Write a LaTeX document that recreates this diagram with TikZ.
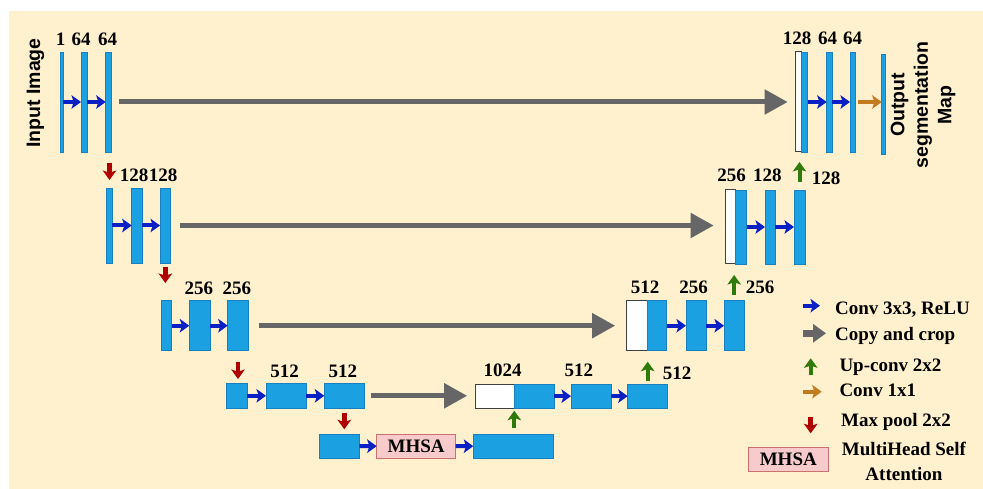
\documentclass[tikz,border=0pt]{standalone}
\usepackage{fontspec}
\setmainfont{Liberation Serif}
\newfontfamily\captionsans{Liberation Sans}
\usetikzlibrary{arrows.meta}

\definecolor{cream}{HTML}{FFF1CE}
\definecolor{barblue}{HTML}{1BA1E2}
\definecolor{baredge}{HTML}{1A7FBF}
\definecolor{convblue}{HTML}{0A1FC4}
\definecolor{copygray}{HTML}{666666}
\definecolor{poolred}{HTML}{B00000}
\definecolor{upgreen}{HTML}{2E7A0A}
\definecolor{onebyone}{HTML}{C47A1E}
\definecolor{attnfill}{HTML}{F7CBCB}
\definecolor{attnedge}{HTML}{CC7070}

\tikzset{
  fmap/.style={draw=baredge, fill=barblue, line width=0.7pt, inner sep=0pt, outer sep=0pt},
  cropped/.style={draw=black!75, fill=white, line width=1pt, inner sep=0pt, outer sep=0pt},
  attn/.style={draw=attnedge, fill=attnfill, line width=1pt, inner sep=0pt, outer sep=0pt,
    font=\bfseries\fontsize{19}{21}\selectfont},
  num/.style={font=\bfseries\fontsize{19}{21}\selectfont, inner sep=0pt, anchor=base},
  legtext/.style={font=\bfseries\fontsize{19}{25}\selectfont, inner sep=0pt},
  sidetitle/.style={font=\captionsans\bfseries\fontsize{19.5}{23.5}\selectfont, rotate=90,
    align=center, inner sep=0pt},
  smallhead/.style={-{Stealth[length=9.5pt,width=13.5pt,inset=2.2pt]}},
  convarrow/.style={convblue, line width=4pt, smallhead},
  copyarrow/.style={copygray, line width=5pt, -{Triangle[length=23pt,width=24pt]}},
  legcopy/.style={copygray, line width=7pt, -{Triangle[length=13pt,width=18pt]}},
  uparrow/.style={upgreen, line width=4pt, smallhead},
  poolarrow/.style={poolred, line width=4.5pt, smallhead},
  onearrow/.style={onebyone, line width=4pt, smallhead},
}

% feature-map block given by its corners: name, x1, y1, x2, y2
\newcommand\fmbox[6][fmap]{%
  \node[#1, minimum width={#5-#3}, minimum height={#6-#4}] (#2)
    at ({(#3+#5)/2},{(#4+#6)/2}) {};}

\begin{document}
\begin{tikzpicture}[x=1pt, y=-1pt]
\useasboundingbox (0,0) rectangle (983,489);
\fill[cream] (9,11) rectangle (983,489);

% ---- level 1 ----
\fmbox{a1}{60}{52}{63}{152}
\fmbox{a2}{81}{52}{87}{152}
\fmbox{a3}{105.7}{52}{111}{152}
\node[num] (la1) at (60.5,45.5) {1};
\node[num] (la2) at (81,45.5) {64};
\node[num] (la3) at (107.5,45.5) {64};
\node[sidetitle] (inimg) at (35.5,93) {Input Image};

\fmbox[cropped]{w1}{795.7}{52}{801}{152}
\fmbox{r1}{801}{52}{807.7}{152}
\fmbox{r2}{826.7}{52}{832.3}{152}
\fmbox{r3}{850}{52}{855.7}{152}
\fmbox{r4}{881.7}{54}{885}{154}
\node[num] (lr1) at (797,45) {128};
\node[num] (lr2) at (827.5,45) {64};
\node[num] (lr3) at (852.5,45) {64};
\node[sidetitle] (outmap) at (923,105) {Output\\segmentation\\Map};

\draw[convarrow] (a1) -- (a2);
\draw[convarrow] (a2) -- (a3);
\draw[copyarrow, shorten <=8pt, shorten >=8pt] (a3) -- (a3 -| w1.west);
\draw[convarrow] (r1) -- (r2);
\draw[convarrow] (r2) -- (r3);
\draw[onearrow, shorten <=2pt] (r3) -- (r3 -| r4.west);

% ---- level 2 ----
\fmbox{b1}{106.7}{188}{112.3}{263}
\fmbox{b2}{131.7}{188}{142.3}{263}
\fmbox{b3}{160}{188}{170.7}{263}
\node[num] (lb2) at (134,181.7) {128};
\node[num] (lb3) at (163,181.7) {128};

\fmbox[cropped]{w2}{725.7}{190}{735.7}{264}
\fmbox{s1}{735.7}{190}{746.7}{264}
\fmbox{s2}{765}{190}{775}{264}
\fmbox{s3}{794}{190}{805}{264}
\node[num] (ls1) at (731.7,181.7) {256};
\node[num] (ls2) at (767.3,181.7) {128};
\node[num] (ls3) at (826,185) {128};

\draw[convarrow] (b1) -- (b2);
\draw[convarrow] (b2) -- (b3);
\draw[copyarrow, shorten <=9pt, shorten >=12pt] (b3) -- (b3 -| w2.west);
\draw[convarrow] (s1) -- (s2);
\draw[convarrow] (s2) -- (s3);

% ---- level 3 ----
\fmbox{c1}{161}{300.7}{171.7}{350.7}
\fmbox{c2}{189.3}{300.7}{210}{350.7}
\fmbox{c3}{227.7}{300.7}{248.3}{350.7}
\node[num] (lc2) at (198.8,294.3) {256};
\node[num] (lc3) at (236.8,294.3) {256};

\fmbox[cropped]{w3}{626.7}{300.7}{647.3}{350.7}
\fmbox{t1}{647.3}{300.7}{666.7}{350.7}
\fmbox{t2}{686}{300.7}{706}{350.7}
\fmbox{t3}{724}{300.7}{744.3}{350.7}
\node[num] (lt1) at (645,294) {512};
\node[num] (lt2) at (693.5,294) {256};
\node[num] (lt3) at (760,294) {256};

\draw[convarrow] (c1) -- (c2);
\draw[convarrow] (c2) -- (c3);
\draw[copyarrow, shorten <=11pt, shorten >=11.5pt] (c3) -- (c3 -| w3.west);
\draw[convarrow] (t1) -- (t2);
\draw[convarrow] (t2) -- (t3);

% ---- level 4 ----
\fmbox{d1}{226.7}{383.3}{247.3}{408.3}
\fmbox{d2}{266}{383.3}{306}{408.3}
\fmbox{d3}{324.3}{383.3}{364.3}{408.3}
\node[num] (ld2) at (284.5,377.3) {512};
\node[num] (ld3) at (342.8,377.3) {512};

\fmbox[cropped]{w4}{475.7}{384}{514.3}{408.3}
\fmbox{v1}{514.3}{384}{554.3}{408.3}
\fmbox{v2}{571}{384}{611}{408.3}
\fmbox{v3}{627.7}{384}{667.7}{408.3}
\node[num] (lv1) at (502.5,376.7) {1024};
\node[num] (lv2) at (578.8,376.7) {512};
\node[num] (lv3) at (677,379.3) {512};

\draw[convarrow] (d1) -- (d2);
\draw[convarrow] (d2) -- (d3);
\draw[copyarrow, shorten <=6.5pt, shorten >=8.5pt] (d3) -- (d3 -| w4.west);
\draw[convarrow] (v1) -- (v2);
\draw[convarrow] (v2) -- (v3);

% ---- bottleneck ----
\fmbox{e1}{319}{434}{359.3}{458.3}
\node[attn, minimum width=79pt, minimum height=24.3pt] (mhsa) at (416.2,446.2) {MHSA};
\fmbox{e2}{473.3}{434}{553.3}{458.3}
\draw[convarrow] (e1) -- (mhsa);
\draw[convarrow] (mhsa) -- (e2);

% ---- max pooling (down) ----
\draw[poolarrow, shorten <=11pt, shorten >=8pt] (b1.north |- a3.south) -- (b1.north);
\draw[poolarrow, shorten <=3.7pt, shorten >=17.7pt] (b3.south) -- (b3.south |- c1.north);
\draw[poolarrow, shorten <=11pt, shorten >=4.3pt] (c3.south) -- (c3.south |- d1.north);
\draw[poolarrow, shorten <=4.4pt, shorten >=4.7pt] (d3.south) -- (d3.south |- e1.north);

% ---- up-convolution (up) ----
\draw[uparrow, shorten <=5.7pt, shorten >=2.4pt] (e2.north -| w4.east) -- (w4.south east);
\draw[uparrow, shorten <=3.3pt, shorten >=11pt] (v3.north) -- (v3.north |- w3.south);
\draw[uparrow, shorten <=5.7pt, shorten >=11pt] (t3.north) -- (t3.north |- w2.south);
\draw[uparrow, shorten <=8pt, shorten >=10pt] (s3.north) -- (s3.north |- w1.south);

% ---- legend ----
\coordinate (k1a) at (802.7,305.7); \coordinate (k1b) at (820,305.7);
\coordinate (k2a) at (803,333.3);   \coordinate (k2b) at (826,333.3);
\coordinate (k3a) at (810.7,375);   \coordinate (k3b) at (810.7,358.3);
\coordinate (k4a) at (803.3,391.7); \coordinate (k4b) at (821.7,391.7);
\coordinate (k5a) at (810.7,416.7); \coordinate (k5b) at (810.7,433.3);
\draw[convarrow] (k1a) -- (k1b);
\draw[legcopy] (k2a) -- (k2b);
\draw[uparrow] (k3a) -- (k3b);
\draw[onearrow] (k4a) -- (k4b);
\draw[poolarrow] (k5a) -- (k5b);
\node[legtext, anchor=base west] (g1) at (835,314.5) {Conv 3x3, ReLU};
\node[legtext, anchor=base west] (g2) at (835,340.7) {Copy and crop};
\node[legtext, anchor=base west] (g3) at (839.3,371.7) {Up-conv 2x2};
\node[legtext, anchor=base west] (g4) at (839.3,396) {Conv 1x1};
\node[legtext, anchor=base west] (g5) at (841,426) {Max pool 2x2};
\node[attn, minimum width=80pt, minimum height=24pt] (kmhsa) at (788.3,459.7) {MHSA};
\node[legtext, align=center] (g6) at (904,461) {MultiHead Self\\Attention};
\end{tikzpicture}
\end{document}
